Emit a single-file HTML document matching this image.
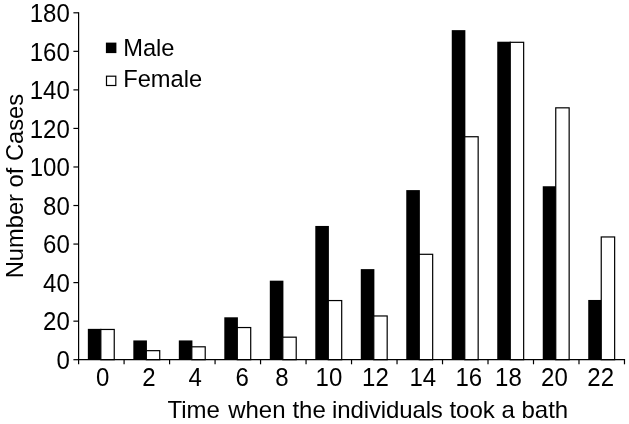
<!DOCTYPE html>
<html><head><meta charset="utf-8"><title>Bath time chart</title>
<style>html,body{margin:0;padding:0;background:#fff}body{width:629px;height:424px;overflow:hidden}</style></head>
<body>
<svg width="629" height="424" viewBox="0 0 629 424" style="display:block">
<rect width="629" height="424" fill="#fff"/>
<rect x="87.84" y="328.86" width="13.60" height="30.84" fill="#000"/>
<rect x="100.84" y="329.46" width="13.40" height="30.24" fill="#fff" stroke="#000" stroke-width="1.2"/>
<rect x="133.33" y="340.43" width="13.60" height="19.27" fill="#000"/>
<rect x="146.33" y="350.66" width="13.40" height="9.04" fill="#fff" stroke="#000" stroke-width="1.2"/>
<rect x="178.82" y="340.43" width="13.60" height="19.27" fill="#000"/>
<rect x="191.82" y="346.81" width="13.40" height="12.89" fill="#fff" stroke="#000" stroke-width="1.2"/>
<rect x="224.31" y="317.30" width="13.60" height="42.40" fill="#000"/>
<rect x="237.31" y="327.54" width="13.40" height="32.16" fill="#fff" stroke="#000" stroke-width="1.2"/>
<rect x="269.81" y="280.68" width="13.60" height="79.02" fill="#000"/>
<rect x="282.81" y="337.17" width="13.40" height="22.53" fill="#fff" stroke="#000" stroke-width="1.2"/>
<rect x="315.30" y="225.95" width="13.60" height="133.75" fill="#000"/>
<rect x="328.30" y="300.56" width="13.40" height="59.14" fill="#fff" stroke="#000" stroke-width="1.2"/>
<rect x="360.78" y="269.12" width="13.60" height="90.58" fill="#000"/>
<rect x="373.78" y="315.97" width="13.40" height="43.73" fill="#fff" stroke="#000" stroke-width="1.2"/>
<rect x="406.27" y="190.10" width="13.60" height="169.60" fill="#000"/>
<rect x="419.27" y="254.30" width="13.40" height="105.40" fill="#fff" stroke="#000" stroke-width="1.2"/>
<rect x="451.76" y="30.14" width="13.60" height="329.56" fill="#000"/>
<rect x="464.76" y="136.74" width="13.40" height="222.96" fill="#fff" stroke="#000" stroke-width="1.2"/>
<rect x="497.25" y="41.71" width="13.60" height="317.99" fill="#000"/>
<rect x="510.25" y="42.31" width="13.40" height="317.39" fill="#fff" stroke="#000" stroke-width="1.2"/>
<rect x="542.75" y="186.25" width="13.60" height="173.45" fill="#000"/>
<rect x="555.75" y="107.83" width="13.40" height="251.87" fill="#fff" stroke="#000" stroke-width="1.2"/>
<rect x="588.24" y="299.96" width="13.60" height="59.74" fill="#000"/>
<rect x="601.24" y="236.96" width="13.40" height="122.74" fill="#fff" stroke="#000" stroke-width="1.2"/>
<g stroke="#000" stroke-width="1.2" fill="none">
<path d="M78.6 12.2V359.7H625.1"/>
<path d="M73.4 359.70H78.6"/>
<path d="M73.4 321.16H78.6"/>
<path d="M73.4 282.61H78.6"/>
<path d="M73.4 244.07H78.6"/>
<path d="M73.4 205.52H78.6"/>
<path d="M73.4 166.98H78.6"/>
<path d="M73.4 128.43H78.6"/>
<path d="M73.4 89.89H78.6"/>
<path d="M73.4 51.34H78.6"/>
<path d="M73.4 12.80H78.6"/>
<path d="M78.60 359.7V364.3"/>
<path d="M124.09 359.7V364.3"/>
<path d="M169.58 359.7V364.3"/>
<path d="M215.07 359.7V364.3"/>
<path d="M260.56 359.7V364.3"/>
<path d="M306.05 359.7V364.3"/>
<path d="M351.54 359.7V364.3"/>
<path d="M397.03 359.7V364.3"/>
<path d="M442.52 359.7V364.3"/>
<path d="M488.01 359.7V364.3"/>
<path d="M533.50 359.7V364.3"/>
<path d="M578.99 359.7V364.3"/>
<path d="M624.48 359.7V364.3"/>
</g>
<g font-family="'Liberation Sans', Arial, sans-serif" font-size="24px" fill="#000">
<text transform="translate(69.8,368.90) scale(1,1.04)" text-anchor="end">0</text>
<text transform="translate(69.8,330.36) scale(1,1.04)" text-anchor="end">20</text>
<text transform="translate(69.8,291.81) scale(1,1.04)" text-anchor="end">40</text>
<text transform="translate(69.8,253.27) scale(1,1.04)" text-anchor="end">60</text>
<text transform="translate(69.8,214.72) scale(1,1.04)" text-anchor="end">80</text>
<text transform="translate(69.8,176.18) scale(1,1.04)" text-anchor="end">100</text>
<text transform="translate(69.8,137.63) scale(1,1.04)" text-anchor="end">120</text>
<text transform="translate(69.8,99.09) scale(1,1.04)" text-anchor="end">140</text>
<text transform="translate(69.8,60.54) scale(1,1.04)" text-anchor="end">160</text>
<text transform="translate(69.8,22.00) scale(1,1.04)" text-anchor="end">180</text>
<text transform="translate(102.65,385.5) scale(1,1.04)" text-anchor="middle">0</text>
<text transform="translate(148.8,385.5) scale(1,1.04)" text-anchor="middle">2</text>
<text transform="translate(195.2,385.5) scale(1,1.04)" text-anchor="middle">4</text>
<text transform="translate(242.1,385.5) scale(1,1.04)" text-anchor="middle">6</text>
<text transform="translate(281.8,385.5) scale(1,1.04)" text-anchor="middle">8</text>
<text transform="translate(328.95,385.5) scale(1,1.04)" text-anchor="middle">10</text>
<text transform="translate(375.4,385.5) scale(1,1.04)" text-anchor="middle">12</text>
<text transform="translate(422.75,385.5) scale(1,1.04)" text-anchor="middle">14</text>
<text transform="translate(468.8,385.5) scale(1,1.04)" text-anchor="middle">16</text>
<text transform="translate(508.45,385.5) scale(1,1.04)" text-anchor="middle">18</text>
<text transform="translate(554.4,385.5) scale(1,1.04)" text-anchor="middle">20</text>
<text transform="translate(600.65,385.5) scale(1,1.04)" text-anchor="middle">22</text>
<text x="123.2" y="55.5" font-size="23.7px">Male</text>
<text x="123.2" y="87.2" font-size="23.7px">Female</text>
<text y="418.0"><tspan x="167.5">Time</tspan> <tspan x="228.2">when</tspan> <tspan x="292.4">the</tspan> <tspan x="332" letter-spacing="-0.12">individuals</tspan> <tspan x="449.4">took</tspan> <tspan x="501.6">a</tspan> <tspan x="521.45">bath</tspan></text>
<text transform="translate(23.4,186.1) rotate(-90)" text-anchor="middle" font-size="23.7px">Number of Cases</text>
</g>
<rect x="105.9" y="42.6" width="10.5" height="10.5" fill="#000"/>
<rect x="106.5" y="76.2" width="9.3" height="9.3" fill="#fff" stroke="#000" stroke-width="1.2"/>
</svg>
</body></html>
